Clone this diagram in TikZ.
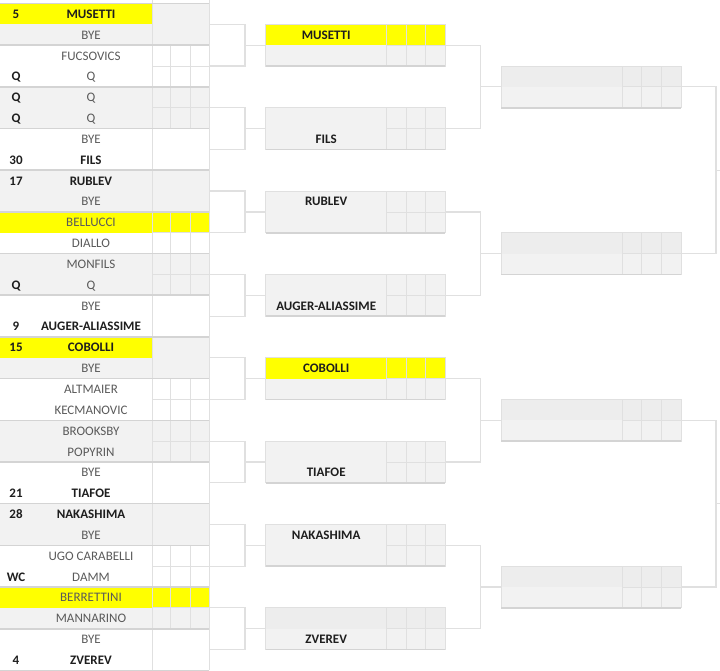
\documentclass[tikz,border=0pt]{standalone}
\usepackage{fontspec}
\setmainfont{Carlito}
\definecolor{cellgrey}{HTML}{F2F2F2}
\definecolor{cellgreyb}{HTML}{EDEDED}
\definecolor{gridline}{HTML}{E0E0E0}
\definecolor{bandline}{HTML}{D4D4D4}
\definecolor{hilite}{HTML}{FFFF00}
\definecolor{namegrey}{HTML}{5A5A5A}
\definecolor{namedark}{HTML}{1E1E1E}
\tikzset{
  player/.style={font=\fontsize{13}{13}\selectfont, text=namegrey, inner sep=0pt,
    anchor=base, yshift=-4.4pt},
  winner/.style={player, font=\fontsize{13}{13}\selectfont\bfseries, text=namedark},
  seeding/.style={winner},
  grid/.style={draw=gridline, line width=0.8pt},
  band/.style={draw=bandline, line width=1.6pt},
  bracket/.style={draw=gridline, line width=1.2pt},
}
\begin{document}
\begin{tikzpicture}[x=1pt,y=-1pt]
         \useasboundingbox (0,0) rectangle (720,670);
         % first round cells
         \foreach \g in {0,2,...,14}
            \fill[cellgrey] (0,{3.5+41.68*\g}) rectangle (209,{3.5+41.68*(\g+1)});
         \fill[hilite] (0,3.5) rectangle (152,24.34);
         \fill[hilite] (0,211.9) rectangle (209,232.74);
         \fill[hilite] (0,336.94) rectangle (152,357.78);
         \fill[hilite] (0,587.02) rectangle (209,607.86);
         \foreach \g in {1,2,5,6,9,10,13,14} {
            \draw[grid] (170.7,{3.5+41.68*\g}) -- ++(0,41.68);
            \draw[grid] (190,{3.5+41.68*\g}) -- ++(0,41.68);
            \draw[grid] (152,{24.34+41.68*\g}) -- (209,{24.34+41.68*\g});
         }
         \draw[grid] (152,0) -- (152,670);
         \draw[grid] (209,0) -- (209,670);
         \foreach \g in {0,...,16}
            \draw[band] (0,{3.5+41.68*\g}) -- (209,{3.5+41.68*\g});
         % first round players
         \node[seeding] (s0) at (16,13.9) {5};
         \node[winner] (n0) at (91,13.9) {MUSETTI};
         \node[player] (n1) at (91,34.8) {BYE};
         \node[player] (n2) at (91,55.6) {FUCSOVICS};
         \node[seeding] (s3) at (16,76.4) {Q};
         \node[player] (n3) at (91,76.4) {Q};
         \node[seeding] (s4) at (16,97.3) {Q};
         \node[player] (n4) at (91,97.3) {Q};
         \node[seeding] (s5) at (16,118.1) {Q};
         \node[player] (n5) at (91,118.1) {Q};
         \node[player] (n6) at (91,139.0) {BYE};
         \node[seeding] (s7) at (16,159.8) {30};
         \node[winner] (n7) at (91,159.8) {FILS};
         \node[seeding] (s8) at (16,180.7) {17};
         \node[winner] (n8) at (91,180.7) {RUBLEV};
         \node[player] (n9) at (91,201.5) {BYE};
         \node[player] (n10) at (91,222.3) {BELLUCCI};
         \node[player] (n11) at (91,243.2) {DIALLO};
         \node[player] (n12) at (91,264.0) {MONFILS};
         \node[seeding] (s13) at (16,284.8) {Q};
         \node[player] (n13) at (91,284.8) {Q};
         \node[player] (n14) at (91,305.7) {BYE};
         \node[seeding] (s15) at (16,326.5) {9};
         \node[winner] (n15) at (91,326.5) {AUGER-ALIASSIME};
         \node[seeding] (s16) at (16,347.4) {15};
         \node[winner] (n16) at (91,347.4) {COBOLLI};
         \node[player] (n17) at (91,368.2) {BYE};
         \node[player] (n18) at (91,389.0) {ALTMAIER};
         \node[player] (n19) at (91,409.9) {KECMANOVIC};
         \node[player] (n20) at (91,430.7) {BROOKSBY};
         \node[player] (n21) at (91,451.6) {POPYRIN};
         \node[player] (n22) at (91,472.4) {BYE};
         \node[seeding] (s23) at (16,493.2) {21};
         \node[winner] (n23) at (91,493.2) {TIAFOE};
         \node[seeding] (s24) at (16,514.1) {28};
         \node[winner] (n24) at (91,514.1) {NAKASHIMA};
         \node[player] (n25) at (91,534.9) {BYE};
         \node[player] (n26) at (91,555.8) {UGO CARABELLI};
         \node[seeding] (s27) at (16,576.6) {WC};
         \node[player] (n27) at (91,576.6) {DAMM};
         \node[player] (n28) at (91,597.4) {BERRETTINI};
         \node[player] (n29) at (91,618.3) {MANNARINO};
         \node[player] (n30) at (91,639.1) {BYE};
         \node[seeding] (s31) at (16,659.9) {4};
         \node[winner] (n31) at (91,659.9) {ZVEREV};
         % second round boxes
         \foreach \k/\c in {0/hilite,1/cellgrey,2/cellgrey,3/cellgrey,
                            4/hilite,5/cellgrey,6/cellgrey,7/cellgreyb} {
            \pgfmathsetmacro\T{24.34+83.36*\k}
            \fill[cellgrey] (265.7,\T) rectangle (445,\T+41.68);
            \fill[\c] (265.7,\T) rectangle (445,\T+20.84);
            \draw[grid] (265.7,\T) rectangle (445,\T+41.68);
            \draw[grid] (386.7,\T) -- ++(0,41.68);
            \draw[grid] (406,\T) -- ++(0,41.68);
            \draw[grid] (425.7,\T) -- ++(0,41.68);
            \draw[grid] (386.7,\T+20.84) -- (445,\T+20.84);
            \draw[band] (265.7,\T+41.68) -- (445,\T+41.68);
            \coordinate (a\k) at (265.7,\T+20.84);
            \coordinate (e\k) at (445,\T+20.84);
         }
         \node[winner] (w0) at (326.2,34.76) {MUSETTI};
         \node[winner] (w1) at (326.2,138.96) {FILS};
         \node[winner] (w2) at (326.2,201.48) {RUBLEV};
         \node[winner] (w3) at (326.2,305.68) {AUGER-ALIASSIME};
         \node[winner] (w4) at (326.2,368.2) {COBOLLI};
         \node[winner] (w5) at (326.2,472.4) {TIAFOE};
         \node[winner] (w6) at (326.2,534.92) {NAKASHIMA};
         \node[winner] (w7) at (326.2,639.12) {ZVEREV};
         % third round boxes
         \foreach \q in {0,...,3} {
            \pgfmathsetmacro\U{66.02+166.72*\q}
            \fill[cellgrey] (501,\U) rectangle (681,\U+41.68);
            \fill[cellgreyb] (501,\U) rectangle (681,\U+20.84);
            \draw[grid] (501,\U) rectangle (681,\U+41.68);
            \draw[grid] (622,\U) -- ++(0,41.68);
            \draw[grid] (641.7,\U) -- ++(0,41.68);
            \draw[grid] (661,\U) -- ++(0,41.68);
            \draw[grid] (622,\U+20.84) -- (681,\U+20.84);
            \draw[band] (501,\U+41.68) -- (681,\U+41.68);
            \coordinate (b\q) at (501,\U+20.84);
            \coordinate (f\q) at (681,\U+20.84);
         }
         % brackets
         \foreach \g in {0,...,15}
            \coordinate (m\g) at (209,{24.34+41.68*\g});
         \foreach \p in {0,...,7}
            \coordinate (j\p) at (245,{45.18+83.36*\p});
         \foreach \q in {0,...,3}
            \coordinate (r\q) at (480.7,{86.86+166.72*\q});
         \coordinate (t0) at (716,170.22);
         \coordinate (t1) at (716,503.66);
         \coordinate (z0) at (720,170.22);
         \coordinate (z1) at (720,503.66);
         \foreach \p [evaluate=\p as \ga using int(2*\p),
                      evaluate=\p as \gb using int(2*\p+1)] in {0,...,7} {
            \draw[bracket] (m\ga) -| (j\p);
            \draw[bracket] (m\gb) -| (j\p);
            \draw[bracket] (j\p) -- (a\p);
         }
         \foreach \q [evaluate=\q as \ka using int(2*\q),
                      evaluate=\q as \kb using int(2*\q+1)] in {0,...,3} {
            \draw[bracket] (e\ka) -| (r\q);
            \draw[bracket] (e\kb) -| (r\q);
            \draw[bracket] (r\q) -- (b\q);
         }
         \draw[bracket] (f0) -| (t0);
         \draw[bracket] (f1) -| (t0);
         \draw[bracket] (t0) -- (z0);
         \draw[bracket] (f2) -| (t1);
         \draw[bracket] (f3) -| (t1);
         \draw[bracket] (t1) -- (z1);
   \end{tikzpicture}
\end{document}
